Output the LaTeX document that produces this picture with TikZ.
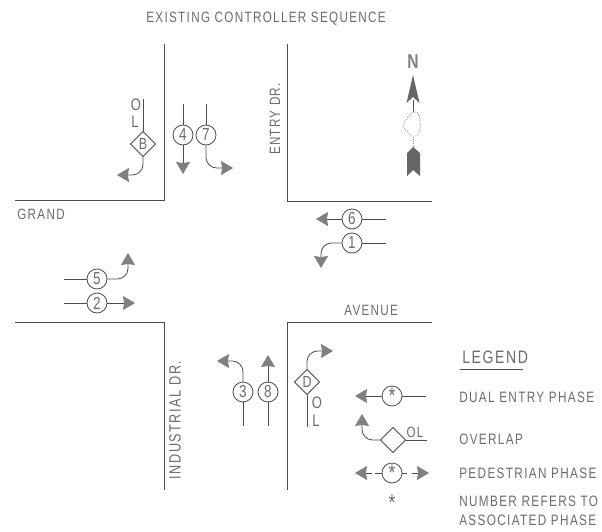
\documentclass[tikz,border=0pt]{standalone}
\usepackage{fontspec}
\setmainfont{Liberation Sans}[FakeStretch=0.78,LetterSpace=9]
\usetikzlibrary{arrows.meta,shapes.geometric}
\definecolor{ink}{gray}{0.3}
\definecolor{txt}{gray}{0.42}
\definecolor{headc}{gray}{0.5}
\newcommand{\astk}{\raisebox{-0.36em}{*}}
\tikzset{
  road/.style={draw=ink,line width=0.7pt},
  conn/.style={draw=ink,line width=0.6pt},
  arr/.style={conn,rounded corners=8pt,-{Stealth[length=9pt,width=10.5pt,inset=0.8pt,color=headc,fill=headc]}},
  phase/.style={circle,draw=ink,line width=0.6pt,minimum size=15pt,inner sep=0pt,font=\fontsize{13}{13}\selectfont,text=txt},
  ovl/.style={diamond,draw=ink,line width=0.6pt,minimum size=19pt,inner sep=0pt,font=\fontsize{12}{12}\selectfont,text=txt},
  lab/.style={font=\fontsize{11.2}{12}\selectfont,text=txt,inner sep=0pt},
  leg/.style={lab,anchor=west},
  star/.style={font=\fontsize{17}{17}\selectfont},
  legtext/.style={leg,font=\fontsize{11.3}{12}\selectfont},
  olmark/.style={lab,font=\fontsize{12.5}{13}\selectfont},
}
\begin{document}
\begin{tikzpicture}[x=0.75pt,y=-0.75pt]
\useasboundingbox (0,0) rectangle (602,531);
% kerbs
\draw[road] (164,44) -- (164,200) -- (15,200);
\draw[road] (287,44) -- (287,201) -- (432,201);
\draw[road] (15,322) -- (164,322) -- (164,490);
\draw[road] (432,322) -- (287,322) -- (287,490);
% title and street names
\node[lab] (title) at (266,19) {EXISTING CONTROLLER SEQUENCE};
\node[lab,rotate=90] (entry) at (275,119) {ENTRY DR.};
\node[lab,rotate=90,font=\fontsize{12.2}{13}\selectfont] (ind) at (175,420) {INDUSTRIAL DR.};
\node[leg] (grand) at (17,214) {GRAND};
\node[leg] (ave) at (344,310) {AVENUE};
% north approach
\node[ovl] (B) at (143,144) {B};
\coordinate (Bt) at (143,99);
\coordinate (Bc) at (143,175);
\coordinate (Be) at (117,175);
\draw[conn] (Bt) -- (B);
\draw[arr] (B) -- (Bc) -- (Be);
\node[olmark] (Bo) at (136,105) {O};
\node[olmark] (Bl) at (135,122) {L};
\node[phase] (p4) at (183,135) {4};
\node[phase] (p7) at (206,135) {7};
\coordinate (p4t) at (183,104);
\coordinate (p7t) at (206,104);
\coordinate (p4e) at (183,174);
\coordinate (p7c) at (206,168);
\coordinate (p7e) at (233,168);
\draw[conn] (p4t) -- (p4);
\draw[conn] (p7t) -- (p7);
\draw[arr] (p4) -- (p4e);
\draw[arr] (p7) -- (p7c) -- (p7e);
% east approach
\node[phase] (p6) at (352,219) {6};
\node[phase] (p1) at (352,243) {1};
\coordinate (p6r) at (386,219);
\coordinate (p1r) at (386,243);
\coordinate (p6e) at (316,219);
\coordinate (p1c) at (321,243);
\coordinate (p1e) at (321,268);
\draw[conn] (p6r) -- (p6);
\draw[conn] (p1r) -- (p1);
\draw[arr] (p6) -- (p6e);
\draw[arr] (p1) -- (p1c) -- (p1e);
% west approach
\node[phase] (p5) at (97,279) {5};
\node[phase] (p2) at (97,303) {2};
\coordinate (p5l) at (64,279);
\coordinate (p2l) at (64,303);
\coordinate (p5c) at (128,279);
\coordinate (p5e) at (128,253);
\coordinate (p2e) at (135,303);
\draw[conn] (p5l) -- (p5);
\draw[conn] (p2l) -- (p2);
\draw[arr] (p5) -- (p5c) -- (p5e);
\draw[arr] (p2) -- (p2e);
% south approach
\node[phase] (p3) at (243,392) {3};
\node[phase] (p8) at (268,392) {8};
\coordinate (p3b) at (243,426);
\coordinate (p8b) at (268,426);
\coordinate (p3c) at (243,361);
\coordinate (p3e) at (217,361);
\coordinate (p8e) at (268,355);
\draw[conn] (p3b) -- (p3);
\draw[conn] (p8b) -- (p8);
\draw[arr] (p3) -- (p3c) -- (p3e);
\draw[arr] (p8) -- (p8e);
\node[ovl] (D) at (307,382) {D};
\coordinate (Db) at (307,427);
\coordinate (Dc) at (307,351);
\coordinate (De) at (333,351);
\draw[conn] (Db) -- (D);
\draw[arr] (D) -- (Dc) -- (De);
\node[olmark] (Do) at (317,403) {O};
\node[olmark] (Dl) at (316,421) {L};
% north arrow
\node[font=\fontsize{15}{15}\bfseries\selectfont,text=headc,inner sep=0pt] (north) at (413,61.5) {N};
\fill[headc!80!black] (413,75) -- (419.5,103) -- (413,97) -- (406.5,103) -- cycle;
\draw[ink,line width=0.5pt] (413,100) -- (413,112);
\draw[headc,line width=0.6pt,densely dotted] (413,112) -- (417,112) .. controls (419,115) and (420,118) .. (420,122)
  .. controls (421,128) and (419,135) .. (417,136) -- (411,136) .. controls (410,133) and (407,132) .. (405,130)
  .. controls (403,127) and (403,124) .. (405,121) .. controls (408,119) and (409,114) .. (413,112);
\draw[headc,line width=0.6pt,densely dotted] (413,137) -- (413,148);
\fill[headc!80!black] (413,147) -- (420,153) -- (420,176) -- (413,170) -- (407,176) -- (407,153) -- cycle;
% legend
\node[leg,font=\fontsize{13.5}{14}\selectfont] (legt) at (462,357) {LEGEND};
\coordinate (lu1) at (460,369);
\coordinate (lu2) at (523,369);
\draw[conn] (lu1) -- (lu2);
\node[phase,star] (l1) at (392,396) {\astk};
\coordinate (l1r) at (426,396);
\coordinate (l1e) at (355,396);
\draw[conn] (l1r) -- (l1);
\draw[arr] (l1) -- (l1e);
\node[legtext] (t1) at (459,397) {DUAL ENTRY PHASE};
\node[ovl] (l2) at (393,440) {};
\coordinate (l2r) at (427,440);
\coordinate (l2c) at (362,440);
\coordinate (l2e) at (362,414);
\draw[conn] (l2r) -- (l2);
\draw[arr] (l2) -- (l2c) -- (l2e);
\node[lab] (lol) at (415,432) {OL};
\node[legtext] (t2) at (459,439) {OVERLAP};
\node[phase,star] (l3) at (392,473) {\astk};
\coordinate (l3a) at (375,473);
\coordinate (l3b) at (407,473);
\coordinate (l3c) at (372,473);
\coordinate (l3d) at (412,473);
\coordinate (l3l) at (355,473);
\coordinate (l3r) at (429,473);
\draw[conn] (l3) -- (l3a);
\draw[conn] (l3) -- (l3b);
\draw[arr] (l3c) -- (l3l);
\draw[arr] (l3d) -- (l3r);
\node[legtext] (t3) at (459,473) {PEDESTRIAN PHASE};
\node[lab,star,inner sep=0pt] (starn) at (392,503) {\astk};
\node[legtext] (t4) at (459,501) {NUMBER REFERS TO};
\node[legtext] (t5) at (459,520) {ASSOCIATED PHASE};
\end{tikzpicture}
\end{document}
